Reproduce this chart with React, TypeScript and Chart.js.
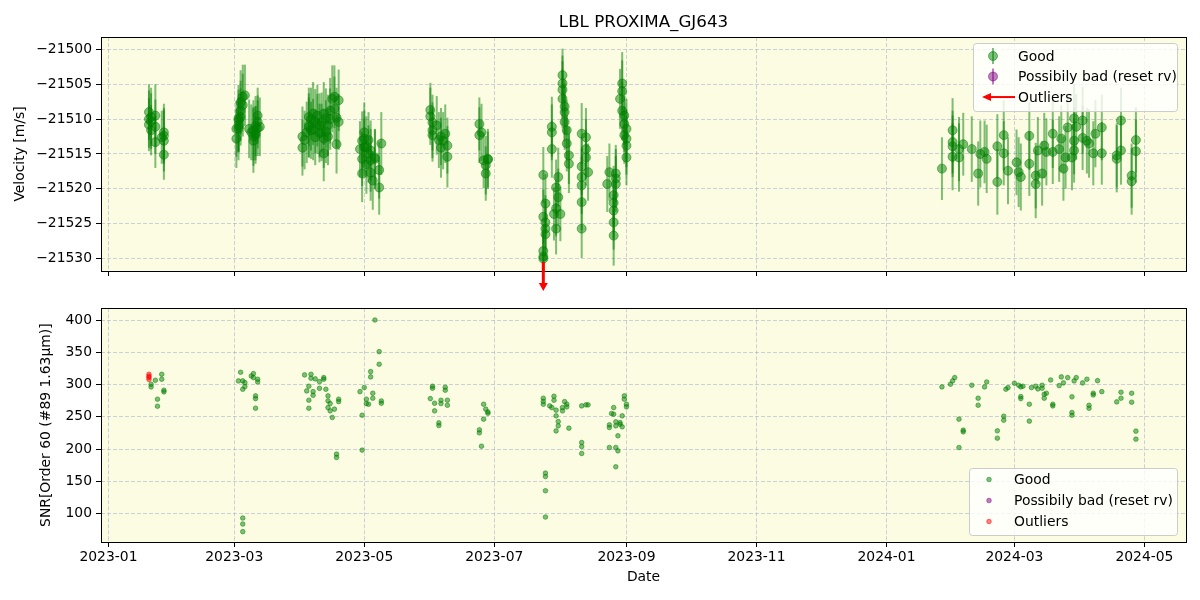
import React, { useEffect, useRef } from 'react';
import { Chart, registerables } from 'chart.js';

Chart.register(...registerables);
Chart.defaults.font.family = 'DejaVu Sans';
Chart.defaults.color = '#000';

// ---------------- data ----------------
const TITLE = 'LBL PROXIMA_GJ643';
const Y_TOP_LABEL = 'Velocity [m/s]';
const Y_BOT_LABEL = 'SNR[Order 60 (#89 1.63μm)]';
const X_LABEL = 'Date';
const LEGEND_TOP = ['Good', 'Possibily bad (reset rv)', 'Outliers'];
const LEGEND_BOT = ['Good', 'Possibily bad (reset rv)', 'Outliers'];

const xTickLabels = ['2023-01', '2023-03', '2023-05', '2023-07', '2023-09', '2023-11', '2024-01', '2024-03', '2024-05'];
const xRange = ['2022-12-28T12:00:00Z', '2024-05-20T12:00:00Z'];
const rvTicks = [-21530, -21525, -21520, -21515, -21510, -21505, -21500];
const rvRange = [-21531.77, -21498.24];
const snrTicks = [100, 150, 200, 250, 300, 350, 400];
const snrRange = [56.2, 418.1];

// [date, velocity, error]
const rvGood: [string, number, number][] = [
  ['2023-01-20', -21509.0, 4.0], ['2023-01-20', -21510.8, 3.8], ['2023-01-20', -21510.0, 4.1],
  ['2023-01-21', -21509.7, 4.2], ['2023-01-21', -21511.6, 3.6], ['2023-01-21', -21510.3, 4.0],
  ['2023-01-23', -21509.5, 4.5], ['2023-01-23', -21511.1, 3.9], ['2023-01-23', -21513.3, 3.7],
  ['2023-01-26', -21512.6, 3.8],
  ['2023-01-27', -21515.1, 3.6], ['2023-01-27', -21511.9, 4.1], ['2023-01-27', -21513.1, 4.4], ['2023-01-27', -21512.4, 4.0],
  ['2023-03-02', -21511.4, 4.0], ['2023-03-02', -21512.8, 4.2],
  ['2023-03-03', -21511.4, 4.5], ['2023-03-03', -21509.9, 4.8], ['2023-03-03', -21510.9, 3.9], ['2023-03-03', -21510.2, 4.4],
  ['2023-03-04', -21508.8, 4.3], ['2023-03-04', -21509.7, 4.1], ['2023-03-04', -21507.6, 4.6],
  ['2023-03-05', -21506.8, 4.6], ['2023-03-05', -21508.0, 4.5], ['2023-03-06', -21506.6, 4.4],
  ['2023-03-08', -21511.4, 4.2], ['2023-03-09', -21511.9, 4.0],
  ['2023-03-10', -21513.1, 4.6], ['2023-03-10', -21511.6, 4.3], ['2023-03-10', -21512.5, 4.2],
  ['2023-03-11', -21512.3, 4.1], ['2023-03-11', -21512.0, 3.9], ['2023-03-11', -21511.0, 4.3],
  ['2023-03-12', -21509.5, 4.0], ['2023-03-12', -21510.4, 3.8], ['2023-03-12', -21511.3, 4.0],
  ['2023-03-13', -21511.1, 4.2],
  ['2023-04-02', -21512.5, 4.3], ['2023-04-02', -21514.1, 4.0], ['2023-04-03', -21513.0, 4.2],
  ['2023-04-04', -21511.9, 4.4],
  ['2023-04-05', -21510.9, 4.6], ['2023-04-05', -21509.7, 4.2], ['2023-04-05', -21511.2, 4.3],
  ['2023-04-06', -21511.6, 4.1], ['2023-04-06', -21510.0, 4.5],
  ['2023-04-07', -21509.2, 4.5], ['2023-04-07', -21511.5, 4.4],
  ['2023-04-08', -21512.6, 4.0], ['2023-04-08', -21510.3, 4.6],
  ['2023-04-09', -21510.7, 4.3], ['2023-04-09', -21509.5, 4.4],
  ['2023-04-10', -21510.9, 4.6], ['2023-04-10', -21512.0, 4.2],
  ['2023-04-11', -21511.9, 4.1], ['2023-04-11', -21510.5, 4.3],
  ['2023-04-12', -21512.8, 4.2], ['2023-04-12', -21514.9, 4.0], ['2023-04-12', -21509.2, 4.5],
  ['2023-04-13', -21509.9, 4.3], ['2023-04-13', -21511.8, 4.5],
  ['2023-04-14', -21510.9, 4.4], ['2023-04-14', -21512.5, 4.1],
  ['2023-04-15', -21508.8, 4.7], ['2023-04-15', -21510.0, 4.4],
  ['2023-04-16', -21507.1, 4.8], ['2023-04-17', -21506.8, 4.5], ['2023-04-17', -21508.5, 4.6],
  ['2023-04-18', -21513.6, 4.2], ['2023-04-18', -21509.8, 4.3],
  ['2023-04-19', -21507.3, 4.4], ['2023-04-19', -21510.4, 4.0],
  ['2023-04-29', -21514.3, 4.0],
  ['2023-04-30', -21513.1, 4.2], ['2023-04-30', -21515.7, 3.9], ['2023-04-30', -21517.8, 4.1],
  ['2023-05-01', -21511.9, 4.3], ['2023-05-01', -21512.8, 4.0], ['2023-05-01', -21514.0, 4.1],
  ['2023-05-02', -21514.0, 4.4], ['2023-05-02', -21516.5, 4.2],
  ['2023-05-03', -21515.0, 4.1], ['2023-05-03', -21513.0, 4.0],
  ['2023-05-04', -21515.9, 4.5], ['2023-05-04', -21517.7, 4.0], ['2023-05-04', -21514.5, 4.3],
  ['2023-05-05', -21518.8, 4.2],
  ['2023-05-06', -21515.5, 4.0], ['2023-05-06', -21515.7, 4.3],
  ['2023-05-08', -21517.3, 4.1], ['2023-05-08', -21519.8, 3.9],
  ['2023-05-09', -21513.5, 4.5],
  ['2023-06-01', -21508.7, 3.9], ['2023-06-01', -21509.6, 4.1],
  ['2023-06-02', -21511.6, 4.0], ['2023-06-02', -21512.3, 3.8], ['2023-06-02', -21510.5, 4.0],
  ['2023-06-04', -21510.9, 4.2], ['2023-06-05', -21513.0, 4.0],
  ['2023-06-06', -21514.1, 4.3], ['2023-06-06', -21512.5, 4.1],
  ['2023-06-07', -21513.1, 4.1], ['2023-06-08', -21512.1, 4.2],
  ['2023-06-09', -21513.8, 4.0], ['2023-06-09', -21515.4, 4.4],
  ['2023-06-24', -21510.7, 3.8], ['2023-06-24', -21512.3, 4.0],
  ['2023-06-25', -21511.9, 4.1], ['2023-06-26', -21515.9, 4.0],
  ['2023-06-27', -21516.6, 4.2], ['2023-06-27', -21517.8, 3.9],
  ['2023-06-28', -21515.7, 4.3], ['2023-06-28', -21515.8, 4.0],
  ['2023-07-24', -21518.0, 4.0], ['2023-07-24', -21528.9, 3.8], ['2023-07-24', -21529.7, 3.5], ['2023-07-24', -21530.0, 3.6],
  ['2023-07-24', -21524.0, 3.9],
  ['2023-07-25', -21522.1, 4.2], ['2023-07-25', -21524.8, 3.9], ['2023-07-25', -21525.7, 4.0], ['2023-07-25', -21526.5, 3.8],
  ['2023-07-28', -21511.1, 4.3], ['2023-07-28', -21511.9, 4.0], ['2023-07-28', -21514.3, 4.1],
  ['2023-07-29', -21523.6, 3.8],
  ['2023-07-30', -21525.7, 3.7], ['2023-07-30', -21519.8, 4.0], ['2023-07-30', -21522.8, 4.0],
  ['2023-07-31', -21521.2, 4.1], ['2023-07-31', -21518.3, 4.2],
  ['2023-08-01', -21523.6, 3.9],
  ['2023-08-02', -21503.7, 3.8], ['2023-08-02', -21504.9, 4.0], ['2023-08-02', -21507.1, 4.2], ['2023-08-02', -21505.8, 4.1],
  ['2023-08-03', -21509.0, 4.1], ['2023-08-03', -21510.4, 4.0], ['2023-08-03', -21508.2, 4.0],
  ['2023-08-04', -21511.6, 4.3], ['2023-08-04', -21513.5, 4.0],
  ['2023-08-05', -21515.2, 4.1], ['2023-08-05', -21516.4, 4.2],
  ['2023-08-11', -21512.1, 4.4], ['2023-08-11', -21518.3, 4.1], ['2023-08-11', -21521.9, 4.0], ['2023-08-11', -21525.7, 4.2],
  ['2023-08-11', -21519.5, 4.1], ['2023-08-11', -21516.8, 4.0],
  ['2023-08-13', -21514.3, 4.3], ['2023-08-13', -21515.5, 4.0], ['2023-08-13', -21512.6, 4.2],
  ['2023-08-14', -21517.6, 4.1],
  ['2023-08-23', -21519.3, 4.0], ['2023-08-24', -21517.6, 4.1],
  ['2023-08-26', -21520.9, 4.2], ['2023-08-26', -21523.1, 4.0], ['2023-08-26', -21526.7, 4.3], ['2023-08-26', -21524.8, 3.9],
  ['2023-08-26', -21522.0, 4.1],
  ['2023-08-27', -21517.8, 4.1], ['2023-08-27', -21519.3, 4.0], ['2023-08-27', -21518.5, 4.2],
  ['2023-08-29', -21507.1, 4.3],
  ['2023-08-30', -21504.9, 4.5], ['2023-08-30', -21508.8, 4.2], ['2023-08-30', -21506.0, 4.4],
  ['2023-08-31', -21510.7, 4.0], ['2023-08-31', -21512.3, 4.1], ['2023-08-31', -21509.5, 4.2],
  ['2023-09-01', -21513.8, 4.2], ['2023-09-01', -21515.5, 4.0], ['2023-09-01', -21511.4, 4.3], ['2023-09-01', -21512.8, 4.1],
  ['2024-01-27', -21517.1, 4.5],
  ['2024-02-01', -21511.6, 4.6], ['2024-02-01', -21513.9, 4.4], ['2024-02-01', -21515.4, 4.8], ['2024-02-01', -21513.3, 4.5],
  ['2024-02-04', -21514.3, 4.6], ['2024-02-04', -21515.5, 4.9],
  ['2024-02-06', -21513.6, 4.5], ['2024-02-10', -21514.3, 4.7], ['2024-02-13', -21517.8, 4.6],
  ['2024-02-14', -21515.0, 4.8], ['2024-02-16', -21514.7, 4.5], ['2024-02-17', -21515.7, 4.9],
  ['2024-02-22', -21513.9, 4.6], ['2024-02-22', -21519.0, 4.7],
  ['2024-02-25', -21512.3, 5.0], ['2024-02-25', -21514.9, 4.6],
  ['2024-02-27', -21517.4, 4.8], ['2024-03-02', -21516.2, 4.7], ['2024-03-03', -21517.6, 5.0],
  ['2024-03-04', -21518.3, 4.8],
  ['2024-03-08', -21512.4, 4.9], ['2024-03-08', -21516.4, 4.6],
  ['2024-03-11', -21518.1, 4.7], ['2024-03-11', -21519.3, 4.9],
  ['2024-03-12', -21514.5, 4.8], ['2024-03-14', -21517.8, 4.6], ['2024-03-15', -21513.8, 4.7],
  ['2024-03-16', -21514.7, 4.8],
  ['2024-03-19', -21512.1, 4.9], ['2024-03-19', -21514.7, 4.6],
  ['2024-03-22', -21514.3, 4.7], ['2024-03-23', -21512.8, 4.8], ['2024-03-24', -21517.1, 4.6],
  ['2024-03-25', -21515.5, 4.5], ['2024-03-26', -21511.2, 4.9], ['2024-03-28', -21515.5, 4.7],
  ['2024-03-29', -21513.1, 4.8], ['2024-03-29', -21514.5, 4.6], ['2024-03-29', -21509.9, 4.9],
  ['2024-03-30', -21511.1, 4.7],
  ['2024-04-02', -21510.2, 4.8], ['2024-04-02', -21512.7, 4.6],
  ['2024-04-04', -21513.1, 4.7], ['2024-04-05', -21513.5, 4.9], ['2024-04-07', -21514.9, 4.6],
  ['2024-04-08', -21512.1, 4.8],
  ['2024-04-11', -21511.2, 4.7], ['2024-04-11', -21514.9, 4.5],
  ['2024-04-18', -21515.2, 4.6], ['2024-04-18', -21515.7, 4.8],
  ['2024-04-20', -21510.2, 4.7], ['2024-04-20', -21514.5, 4.9],
  ['2024-04-25', -21518.1, 4.6], ['2024-04-25', -21518.9, 4.8],
  ['2024-04-27', -21513.0, 4.7], ['2024-04-27', -21514.6, 4.5],
];
const rvOutlierDates = ['2023-07-24'];

// [date, SNR]
const snrOutliers: [string, number][] = [
  ['2023-01-20', 316], ['2023-01-20', 313], ['2023-01-20', 311], ['2023-01-20', 308],
];
const snrGood: [string, number][] = [
  ['2023-01-21', 300.6], ['2023-01-21', 296.4], ['2023-01-23', 306.7],
  ['2023-01-24', 277.4], ['2023-01-24', 266.5], ['2023-01-26', 316], ['2023-01-26', 308.3],
  ['2023-01-27', 291.3], ['2023-01-27', 288.7],
  ['2023-03-03', 305.7], ['2023-03-04', 319.1],
  ['2023-03-05', 305.7], ['2023-03-05', 292.8], ['2023-03-05', 93.3], ['2023-03-05', 84], ['2023-03-05', 72.2],
  ['2023-03-06', 303.1], ['2023-03-06', 296.9], ['2023-03-09', 313.4],
  ['2023-03-10', 317], ['2023-03-10', 310.8],
  ['2023-03-11', 282.5], ['2023-03-11', 278.3], ['2023-03-11', 263.4],
  ['2023-03-12', 308.3], ['2023-03-12', 304.1],
  ['2023-04-03', 315], ['2023-04-04', 290.2],
  ['2023-04-05', 297.5], ['2023-04-05', 275.8], ['2023-04-05', 263.4],
  ['2023-04-06', 316], ['2023-04-06', 309.9], ['2023-04-07', 289.1], ['2023-04-07', 283.5],
  ['2023-04-08', 308.8], ['2023-04-10', 294.2], ['2023-04-10', 304.6],
  ['2023-04-12', 308.3], ['2023-04-12', 310.8], ['2023-04-13', 292.8],
  ['2023-04-14', 282.5], ['2023-04-14', 274.7], ['2023-04-14', 264.4],
  ['2023-04-15', 270.6], ['2023-04-15', 259.3], ['2023-04-16', 249.1], ['2023-04-17', 262],
  ['2023-04-18', 192.3], ['2023-04-18', 187.2], ['2023-04-19', 277.4], ['2023-04-19', 273.6],
  ['2023-04-29', 289.1], ['2023-04-30', 252.6], ['2023-04-30', 198.5], ['2023-05-01', 295.4],
  ['2023-05-02', 277.4], ['2023-05-02', 270.6], ['2023-05-03', 269.6],
  ['2023-05-04', 311.9], ['2023-05-04', 320.1], ['2023-05-05', 286.6], ['2023-05-05', 278.9],
  ['2023-05-06', 400], ['2023-05-08', 351], ['2023-05-08', 331.5],
  ['2023-05-09', 274.7], ['2023-05-09', 271.1],
  ['2023-06-01', 278.3], ['2023-06-02', 297.5], ['2023-06-02', 294.4],
  ['2023-06-03', 271.1], ['2023-06-03', 259.3], ['2023-06-05', 240.7], ['2023-06-05', 236.6],
  ['2023-06-06', 275.8], ['2023-06-06', 270.6], ['2023-06-08', 295.9], ['2023-06-08', 291.3],
  ['2023-06-09', 275.8], ['2023-06-09', 268],
  ['2023-06-24', 229.9], ['2023-06-24', 225.3], ['2023-06-25', 204.6],
  ['2023-06-26', 269.6], ['2023-06-26', 246.5], ['2023-06-27', 262],
  ['2023-06-28', 257.7], ['2023-06-28', 255.6],
  ['2023-07-24', 278.9], ['2023-07-24', 269.6], ['2023-07-24', 274.0],
  ['2023-07-25', 162.9], ['2023-07-25', 157.7], ['2023-07-25', 135.6], ['2023-07-25', 94.9],
  ['2023-07-27', 267], ['2023-07-28', 264.4], ['2023-07-29', 282], ['2023-07-29', 275.8],
  ['2023-07-30', 260.4], ['2023-07-30', 251.6], ['2023-07-30', 228.3],
  ['2023-07-31', 242.7], ['2023-07-31', 236.1],
  ['2023-08-02', 259.3], ['2023-08-02', 264.4], ['2023-08-03', 273.6],
  ['2023-08-04', 265.5], ['2023-08-04', 269.6], ['2023-08-05', 232.5],
  ['2023-08-11', 210.3], ['2023-08-11', 204.1], ['2023-08-11', 193.3], ['2023-08-11', 267],
  ['2023-08-13', 268.6], ['2023-08-14', 268.6],
  ['2023-08-24', 237.6], ['2023-08-24', 233.5], ['2023-08-24', 202.5], ['2023-08-25', 255.2],
  ['2023-08-26', 264.4], ['2023-08-26', 254.1],
  ['2023-08-27', 242.3], ['2023-08-27', 202.5], ['2023-08-27', 172.7], ['2023-08-27', 236.1],
  ['2023-08-28', 220.7], ['2023-08-28', 197.4], ['2023-08-29', 238.6], ['2023-08-29', 241.2],
  ['2023-08-30', 251.6], ['2023-08-30', 234.6], ['2023-08-31', 282.5], ['2023-08-31', 277.4],
  ['2023-09-01', 269.6], ['2023-09-01', 265.5],
  ['2024-01-27', 296.4], ['2024-01-31', 300.6], ['2024-02-01', 305.7], ['2024-02-02', 310.8],
  ['2024-02-04', 246.5], ['2024-02-04', 202.5], ['2024-02-06', 229.4], ['2024-02-06', 226.8],
  ['2024-02-10', 299], ['2024-02-13', 278.9], ['2024-02-13', 268],
  ['2024-02-16', 296.4], ['2024-02-17', 304.1], ['2024-02-22', 228.4], ['2024-02-22', 217],
  ['2024-02-25', 251], ['2024-02-25', 244.9], ['2024-02-26', 292.8], ['2024-02-27', 295.4],
  ['2024-03-01', 302.1], ['2024-03-03', 299],
  ['2024-03-04', 296.4], ['2024-03-04', 281.4], ['2024-03-04', 278.3], ['2024-03-05', 297.5],
  ['2024-03-08', 269.6], ['2024-03-08', 243.4], ['2024-03-09', 295.4], ['2024-03-11', 297.5],
  ['2024-03-12', 293.3], ['2024-03-14', 299], ['2024-03-14', 294.4],
  ['2024-03-15', 278.9], ['2024-03-15', 285], ['2024-03-16', 286.6], ['2024-03-18', 307.2],
  ['2024-03-19', 269.6], ['2024-03-19', 267], ['2024-03-22', 298.4], ['2024-03-23', 311.9],
  ['2024-03-24', 302.6], ['2024-03-26', 310.8],
  ['2024-03-28', 281], ['2024-03-28', 256.7], ['2024-03-28', 252.6],
  ['2024-03-29', 305.7], ['2024-03-30', 310.8], ['2024-04-02', 302.6], ['2024-04-04', 308.3],
  ['2024-04-05', 268], ['2024-04-05', 263.4], ['2024-04-07', 286.6], ['2024-04-07', 284],
  ['2024-04-09', 306.1], ['2024-04-11', 289.1], ['2024-04-18', 273.2],
  ['2024-04-20', 288.2], ['2024-04-20', 278.9], ['2024-04-25', 286.6], ['2024-04-25', 272.7],
  ['2024-04-27', 227.9], ['2024-04-27', 215.5],
];

// ---------------- styles ----------------
const BG = '#fcfce3';
const GRID = 'rgba(160,160,200,0.5)';
const GREEN = 'rgba(0,128,0,0.5)';
const PURPLE = 'rgba(128,0,128,0.5)';
const RED = 'rgba(255,0,0,0.5)';
const FS = 13.9;

const EPOCH = Date.parse('2023-01-01T00:00:00Z');
const dayOf = (s: string) => (Date.parse(s.length === 10 ? s + 'T00:00:00Z' : s) - EPOCH) / 864e5;

const minus = (v: number) => (v < 0 ? '\u2212' + Math.abs(v) : String(v));

function xScaleCfg(showLabels: boolean, height: number) {
  return {
    type: 'linear',
    min: dayOf(xRange[0]),
    max: dayOf(xRange[1]),
    bounds: 'data',
    afterBuildTicks: (s: any) => {
      s.ticks = xTickLabels.map((l) => ({ value: dayOf(l + '-01') }));
    },
    afterFit: (s: any) => {
      s.height = height;
    },
    ticks: {
      display: showLabels,
      autoSkip: false,
      maxRotation: 0,
      padding: 2,
      font: { size: FS },
      color: '#000',
      callback: (_v: any, i: number) => xTickLabels[i],
    },
    grid: { color: GRID, lineWidth: 1, drawTicks: true, tickLength: 5, tickColor: '#000', tickWidth: 1, tickBorderDash: [] },
    border: { display: false, dash: [4, 2] },
    title: {
      display: showLabels,
      text: X_LABEL,
      font: { size: FS },
      color: '#000',
      padding: { top: 0, bottom: 14.5 },
    },
  };
}

function yScaleCfg(range: number[], ticks: number[], title: string, titlePad: number) {
  return {
    type: 'linear',
    min: range[0],
    max: range[1],
    bounds: 'data',
    afterBuildTicks: (s: any) => {
      s.ticks = ticks.map((v) => ({ value: v }));
    },
    afterFit: (s: any) => {
      s.width = 101;
    },
    ticks: { padding: 4, font: { size: FS }, color: '#000', callback: (v: any) => minus(Number(v)) },
    grid: { color: GRID, lineWidth: 1, drawTicks: true, tickLength: 5, tickColor: '#000', tickWidth: 1, tickBorderDash: [] },
    border: { display: false, dash: [4, 2] },
    title: { display: true, text: title, font: { size: FS }, color: '#000', padding: { top: titlePad, bottom: 0 } },
  };
}

const bgPlugin = {
  id: 'bgFill',
  beforeDraw(chart: any) {
    const { ctx, chartArea: a } = chart;
    ctx.save();
    ctx.fillStyle = BG;
    ctx.fillRect(a.left, a.top, a.right - a.left, a.bottom - a.top);
    ctx.restore();
  },
};

const framePlugin = {
  id: 'frame',
  afterDraw(chart: any) {
    const { ctx, chartArea: a } = chart;
    ctx.save();
    ctx.strokeStyle = '#000';
    ctx.lineWidth = 1;
    ctx.strokeRect(Math.round(a.left) + 0.5, Math.round(a.top) + 0.5, Math.round(a.right - a.left), Math.round(a.bottom - a.top));
    ctx.restore();
  },
};

function roundRect(ctx: CanvasRenderingContext2D, x: number, y: number, w: number, h: number, r: number) {
  ctx.beginPath();
  ctx.moveTo(x + r, y);
  ctx.lineTo(x + w - r, y);
  ctx.arcTo(x + w, y, x + w, y + r, r);
  ctx.lineTo(x + w, y + h - r);
  ctx.arcTo(x + w, y + h, x + w - r, y + h, r);
  ctx.lineTo(x + r, y + h);
  ctx.arcTo(x, y + h, x, y + h - r, r);
  ctx.lineTo(x, y + r);
  ctx.arcTo(x, y, x + r, y, r);
  ctx.closePath();
}

function drawArrow(ctx: CanvasRenderingContext2D, x0: number, y0: number, x1: number, y1: number, lw: number, head: number, half: number) {
  const ang = Math.atan2(y1 - y0, x1 - x0);
  const bx = x1 - Math.cos(ang) * head;
  const by = y1 - Math.sin(ang) * head;
  ctx.save();
  ctx.strokeStyle = 'red';
  ctx.fillStyle = 'red';
  ctx.lineWidth = lw;
  ctx.beginPath();
  ctx.moveTo(x0, y0);
  ctx.lineTo(bx, by);
  ctx.stroke();
  ctx.beginPath();
  ctx.moveTo(x1, y1);
  ctx.lineTo(bx - Math.sin(ang) * half, by + Math.cos(ang) * half);
  ctx.lineTo(bx + Math.sin(ang) * half, by - Math.cos(ang) * half);
  ctx.closePath();
  ctx.fill();
  ctx.restore();
}

const topDecor = {
  id: 'topDecor',
  afterDraw(chart: any) {
    const { ctx, chartArea: a, scales } = chart;
    rvOutlierDates.forEach((d) => {
      const x = scales.x.getPixelForValue(dayOf(d));
      drawArrow(ctx, x, a.bottom - 9, x, a.bottom + 20, 3, 8, 4.5);
    });
    const w = 204, h = 68;
    const lx = a.right - 9 - w, ly = a.top + 6;
    ctx.save();
    roundRect(ctx, lx + 0.5, ly + 0.5, w, h, 3);
    ctx.fillStyle = 'rgba(255,255,255,0.8)';
    ctx.fill();
    ctx.strokeStyle = '#cccccc';
    ctx.lineWidth = 1;
    ctx.stroke();
    ctx.font = `${FS}px "DejaVu Sans"`;
    ctx.textBaseline = 'middle';
    const rows = [ly + 13, ly + 33.5, ly + 54];
    const mx = lx + 20;
    [GREEN, PURPLE].forEach((c, i) => {
      ctx.strokeStyle = c;
      ctx.fillStyle = c;
      ctx.lineWidth = 2;
      ctx.beginPath();
      ctx.moveTo(mx, rows[i] - 8);
      ctx.lineTo(mx, rows[i] + 8);
      ctx.stroke();
      ctx.beginPath();
      ctx.arc(mx, rows[i], 4.5, 0, Math.PI * 2);
      ctx.fill();
      ctx.lineWidth = 1;
      ctx.stroke();
    });
    drawArrow(ctx, lx + 42, rows[2], lx + 9, rows[2], 2, 9, 4);
    ctx.fillStyle = '#000';
    LEGEND_TOP.forEach((t, i) => ctx.fillText(t, lx + 45, rows[i] + 1));
    ctx.restore();
  },
};

const botDecor = {
  id: 'botDecor',
  afterDraw(chart: any) {
    const { ctx, chartArea: a } = chart;
    const w = 208, h = 67;
    const lx = a.right - 9 - w, ly = a.bottom - 7 - h;
    ctx.save();
    roundRect(ctx, lx + 0.5, ly + 0.5, w, h, 3);
    ctx.fillStyle = 'rgba(255,255,255,0.8)';
    ctx.fill();
    ctx.strokeStyle = '#cccccc';
    ctx.lineWidth = 1;
    ctx.stroke();
    ctx.font = `${FS}px "DejaVu Sans"`;
    ctx.textBaseline = 'middle';
    const rows = [ly + 11.5, ly + 32.5, ly + 53.5];
    const mx = lx + 20;
    [GREEN, PURPLE, RED].forEach((c, i) => {
      ctx.fillStyle = c;
      ctx.strokeStyle = c;
      ctx.lineWidth = 1;
      ctx.beginPath();
      ctx.arc(mx, rows[i], 2.3, 0, Math.PI * 2);
      ctx.fill();
      ctx.stroke();
    });
    ctx.fillStyle = '#000';
    LEGEND_BOT.forEach((t, i) => ctx.fillText(t, lx + 45, rows[i] + 1));
    ctx.restore();
  },
};

export default function App() {
  const topRef = useRef<HTMLCanvasElement>(null);
  const botRef = useRef<HTMLCanvasElement>(null);

  useEffect(() => {
    const rvPoints = rvGood.map(([d, v]) => ({ x: dayOf(d), y: v }));
    const errSegs: any[] = [];
    rvGood.forEach(([d, v, e]) => {
      const x = dayOf(d);
      errSegs.push({ x, y: v - e }, { x, y: v + e }, { x, y: null });
    });

    const top = new Chart(topRef.current as HTMLCanvasElement, {
      type: 'scatter',
      data: {
        datasets: [
          {
            label: 'Good',
            data: rvPoints,
            pointRadius: 4.5,
            pointHoverRadius: 4.5,
            pointBackgroundColor: GREEN,
            pointBorderWidth: 1,
            pointBorderColor: GREEN,
          },
          {
            type: 'line',
            label: 'Good err',
            data: errSegs,
            borderColor: GREEN,
            borderWidth: 2,
            pointRadius: 0,
            pointHoverRadius: 0,
            spanGaps: false,
            fill: false,
            tension: 0,
            segment: {},
          } as any,
        ],
      },
      options: {
        animation: false,
        responsive: false,
        devicePixelRatio: 1,
        events: [],
        layout: { padding: { left: 0, right: 14, top: 0, bottom: 0 } },
        plugins: {
          legend: { display: false },
          tooltip: { enabled: false },
          title: {
            display: true,
            text: TITLE,
            fullSize: false,
            font: { size: 16.7, weight: 'normal' },
            color: '#000',
            padding: { top: 13, bottom: 4 },
          },
        },
        scales: {
          x: xScaleCfg(false, 25),
          y: yScaleCfg(rvRange, rvTicks, Y_TOP_LABEL, 12),
        } as any,
      } as any,
      plugins: [bgPlugin, framePlugin, topDecor],
    });

    const bot = new Chart(botRef.current as HTMLCanvasElement, {
      type: 'scatter',
      data: {
        datasets: [
          {
            label: 'Outliers',
            data: snrOutliers.map(([d, v]) => ({ x: dayOf(d), y: v })),
            pointRadius: 2.3,
            pointHoverRadius: 2.3,
            pointBackgroundColor: RED,
            pointBorderColor: RED,
            pointBorderWidth: 1,
          },
          {
            label: 'Good',
            data: snrGood.map(([d, v]) => ({ x: dayOf(d), y: v })),
            pointRadius: 2.3,
            pointHoverRadius: 2.3,
            pointBackgroundColor: GREEN,
            pointBorderColor: GREEN,
            pointBorderWidth: 1,
          },
        ],
      },
      options: {
        animation: false,
        responsive: false,
        devicePixelRatio: 1,
        events: [],
        layout: { padding: { left: 0, right: 14, top: 11, bottom: 0 } },
        plugins: { legend: { display: false }, tooltip: { enabled: false } },
        scales: {
          x: xScaleCfg(true, 58),
          y: yScaleCfg(snrRange, snrTicks, Y_BOT_LABEL, 38.5),
        } as any,
      } as any,
      plugins: [bgPlugin, framePlugin, botDecor],
    });

    return () => {
      top.destroy();
      bot.destroy();
    };
  }, []);

  return (
    <div style={{ position: 'absolute', left: 0, top: 0, width: 1200, height: 600, background: '#fff' }}>
      <canvas ref={topRef} width={1200} height={296} style={{ position: 'absolute', left: 0, top: 0, width: 1200, height: 296 }} />
      <canvas ref={botRef} width={1200} height={304} style={{ position: 'absolute', left: 0, top: 296, width: 1200, height: 304 }} />
    </div>
  );
}
